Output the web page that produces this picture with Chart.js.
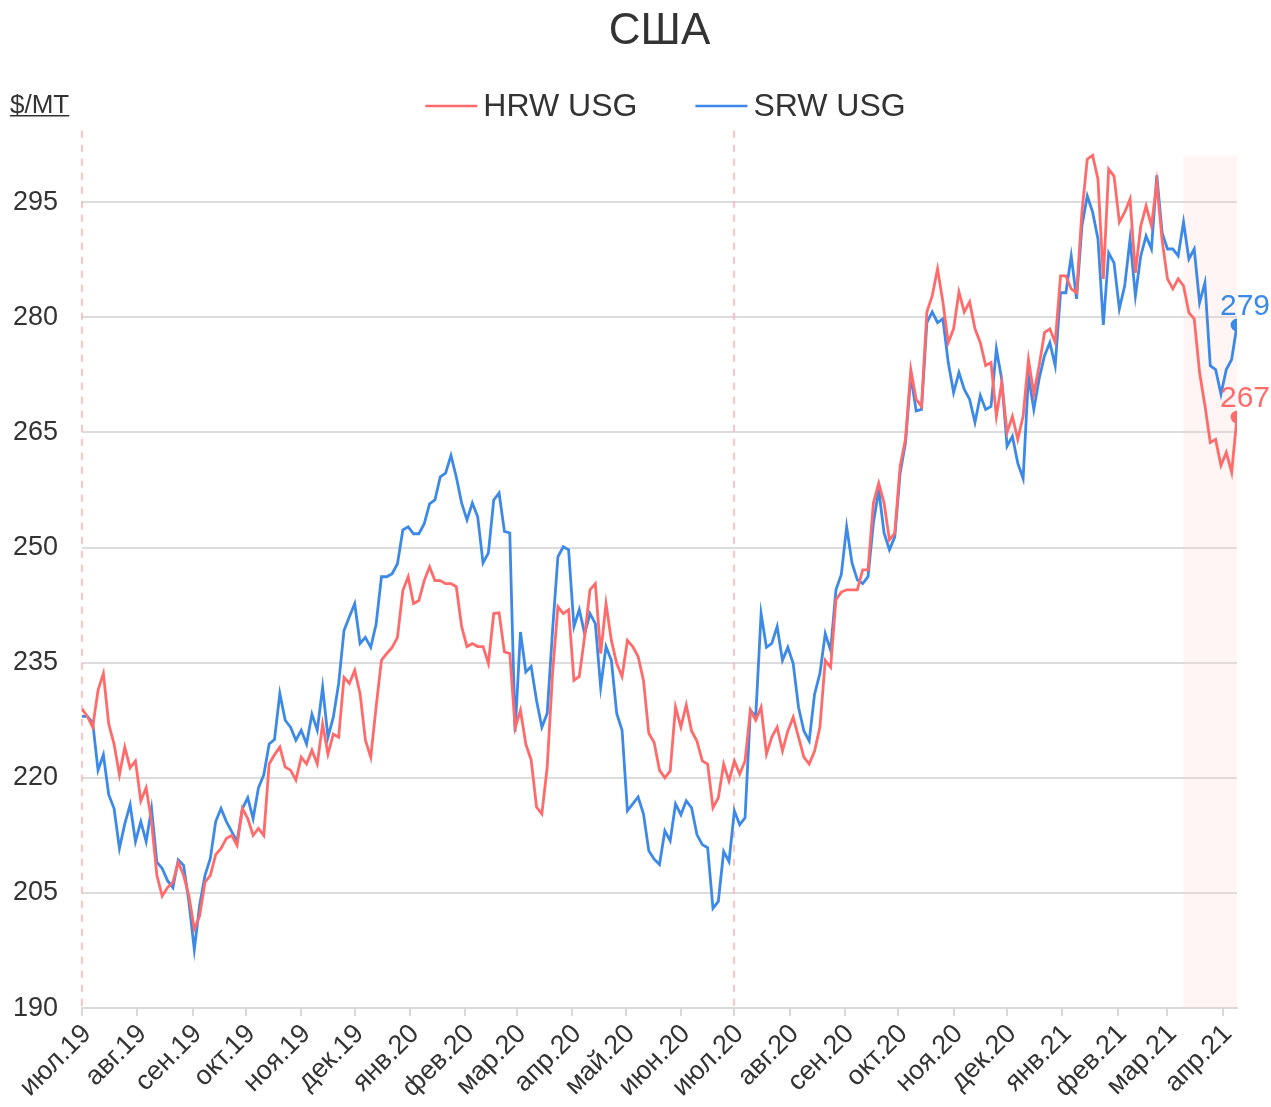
<!DOCTYPE html>
<html>
<head>
<meta charset="utf-8">
<title>США</title>
<script src="https://cdn.jsdelivr.net/npm/chart.js@4.4.0/dist/chart.umd.min.js"></script>
<style>
  html, body { margin: 0; padding: 0; background: #fff; }
  #wrap { width: 1271px; height: 1107px; }
</style>
</head>
<body>
<div id="wrap"><canvas id="chart" width="1271" height="1107"></canvas></div>
<script>
// one value every 3 calendar days, starting 1 Jul 2019
const startDate = '2019-07-01';
const stepDays = 3;

const monthLabels = [
    'июл.19', 'авг.19', 'сен.19', 'окт.19', 'ноя.19', 'дек.19',
    'янв.20', 'фев.20', 'мар.20', 'апр.20', 'май.20', 'июн.20',
    'июл.20', 'авг.20', 'сен.20', 'окт.20', 'ноя.20', 'дек.20',
    'янв.21', 'фев.21', 'мар.21', 'апр.21'
];

const yTicks = [190, 205, 220, 235, 250, 265, 280, 295];

const hrwUsg = [
    229, 228, 226.6, 231.4, 233.6, 227, 224.4, 220.4, 224, 221.3,
    222.2, 217, 218.7, 214.3, 207.3, 204.6, 205.7, 206.4, 209, 207.3,
    204.6, 200.3, 202, 206.4, 207.3, 210, 210.8, 212.1, 212.5, 211.2,
    216, 214.7, 212.5, 213.4, 212.5, 221.8, 223, 224, 221.4, 221,
    219.7, 222.7, 221.8, 223.6, 221.8, 227, 223.1, 225.7, 225.3, 233.1,
    232.3, 234, 231, 224.9, 222.7, 229.2, 235.3, 236.2, 237, 238.3,
    244.4, 246.2, 242.7, 243.1, 245.7, 247.5, 245.7, 245.7, 245.3, 245.3,
    244.9, 239.7, 237.1, 237.5, 237.1, 237.1, 234.9, 241.4, 241.5, 236.4,
    236.2, 226.5, 228.8, 224.4, 222.3, 216.2, 215.3, 221.4, 233.6, 242.3,
    241.4, 241.9, 232.7, 233.2, 238.4, 244.5, 245.3, 236.2, 242.7, 237.9,
    234.9, 233.2, 237.9, 237.1, 235.8, 232.7, 225.8, 224.6, 221, 220,
    220.9, 229.2, 226.6, 229.5, 226.1, 224.8, 222.2, 221.8, 216.1, 217.4,
    221.8, 219.6, 222.2, 220.5, 222.2, 228.8, 227.5, 229.2, 223.1, 225.3,
    226.6, 223.5, 226.1, 227.9, 225.3, 222.7, 221.8, 223.5, 226.6, 235.3,
    234.4, 243.2, 244.2, 244.5, 244.5, 244.5, 247.1, 247.1, 255.8, 258.4,
    255.8, 251, 251.9, 260.6, 264.1, 273.2, 269.3, 268.4, 280.7, 282.8,
    286.3, 282, 276.7, 278.5, 283.3, 280.7, 282, 278.5, 276.7, 273.7,
    274.1, 267.1, 271.5, 265, 267.1, 264.1, 267.1, 274.5, 270, 273.7,
    278, 278.5, 276.7, 285.4, 285.4, 283.7, 283.2, 293.7, 300.6, 301.1,
    298, 285, 299.3, 298.4, 292.4, 293.7, 295.4, 285.8, 291.9, 294.5,
    291.9, 297.5, 290, 285, 283.7, 285, 284.1, 280.6, 279.8, 272.8,
    268.5, 263.7, 264.1, 260.7, 262.4, 259.8, 267
];

const srwUsg = [
    228, 228, 227.2, 221, 223, 217.8, 216, 210.8, 214, 216.5,
    211.7, 214.3, 211.7, 216, 209, 208.2, 206.6, 205.7, 209.3, 208.6,
    203.8, 197.6, 203.4, 207.3, 209.5, 214.3, 216, 214.3, 213, 211.7,
    216, 217.4, 214.7, 218.7, 220.4, 224.4, 225, 231, 227.5, 226.6,
    224.9, 226.2, 224.4, 228.3, 226.2, 231.8, 225.3, 227.9, 232.3, 239.2,
    241, 242.7, 237.5, 238.3, 237, 240, 246.2, 246.2, 246.6, 247.9,
    252.3, 252.7, 251.8, 251.8, 253.1, 255.7, 256.2, 259.2, 259.7, 262,
    259.2, 255.8, 253.6, 255.8, 254, 248, 249.3, 256.2, 257.1, 252.1,
    251.9, 226, 239, 233.8, 234.5, 230.1, 226.6, 228.4, 239.2, 248.8,
    250.1, 249.7, 239.7, 241.9, 238.8, 241.4, 240.1, 231.8, 237.1, 235.3,
    228.4, 226.2, 215.7, 216.6, 217.5, 215.3, 210.5, 209.4, 208.7, 213.1,
    211.8, 216.6, 215.2, 217, 216.1, 212.6, 211.3, 210.9, 203, 203.9,
    210.4, 209.1, 215.7, 213.9, 214.8, 228.8, 228, 241.4, 237, 237.5,
    239.7, 235.3, 237, 234.9, 229.2, 226.1, 224.8, 230.9, 233.6, 238.8,
    236.6, 244.5, 246.5, 252.7, 248, 245.8, 245.3, 246.2, 253.2, 257.5,
    251.9, 249.7, 251.4, 259.7, 263.6, 272.4, 267.8, 268, 279.3, 280.7,
    279.3, 279.8, 274.1, 270.2, 272.8, 270.6, 269.3, 266.3, 269.8, 268,
    268.4, 275.9, 271.9, 263.2, 264.5, 261, 259, 272.4, 268, 272,
    275, 276.7, 273.7, 283.2, 283.2, 288, 282.4, 291.9, 295.8, 293.7,
    290.2, 279, 288.4, 287.1, 281.1, 284.1, 290.2, 282.8, 288, 290.6,
    288.9, 298.5, 291, 288.9, 288.9, 288, 292.4, 287.6, 288.9, 281.9,
    284.5, 273.7, 273.2, 270, 273.2, 274.5, 279
];

const markerDates = ['2019-07-01', '2020-07-01'];
const shadeStart = '2021-03-10';

const Y_MIN = 190;
const Y_MAX = 304.3;
const RED = '#ff6b6b';
const BLUE = '#3c89e8';
const TEXT = '#333';
const FONT = '"Liberation Sans", Arial, Helvetica, sans-serif';

const DAY = 86400000;
const dayOf = iso => Math.round((Date.parse(iso) - Date.parse(startDate)) / DAY);
const monthDays = monthLabels.map((_, k) => Math.round((Date.UTC(2019, 6 + k, 1) - Date.parse(startDate)) / DAY));
const lastDay = (hrwUsg.length - 1) * stepDays;
const toPoints = arr => arr.map((v, i) => ({ x: i * stepDays, y: v }));
const dataMax = Math.max(...hrwUsg, ...srwUsg);

const lastDot = color => ({
    pointRadius: ctx => ctx.dataIndex === ctx.dataset.data.length - 1 ? 5 : 0,
    pointHoverRadius: 0,
    pointBackgroundColor: color,
    pointBorderColor: color,
});

// shaded window, dashed July markers, legend, unit label and last values
const extras = {
    id: 'extras',
    beforeDatasetsDraw(chart) {
        const { ctx, chartArea, scales: { x, y } } = chart;
        ctx.save();
        const sx = x.getPixelForValue(dayOf(shadeStart));
        const sy = y.getPixelForValue(dataMax);
        ctx.fillStyle = 'rgba(255, 205, 205, 0.2)';
        ctx.fillRect(sx, sy, chartArea.right - sx, chartArea.bottom - sy);

        ctx.strokeStyle = 'rgba(255, 170, 170, 0.7)';
        ctx.lineWidth = 2;
        ctx.setLineDash([7, 7]);
        markerDates.forEach(d => {
            const px = Math.round(x.getPixelForValue(dayOf(d)));
            ctx.beginPath();
            ctx.moveTo(px, chartArea.top);
            ctx.lineTo(px, chartArea.bottom);
            ctx.stroke();
        });
        ctx.restore();
    },
    afterDatasetsDraw(chart) {
        const { ctx, chartArea } = chart;
        ctx.save();
        ctx.font = `30px ${FONT}`;
        ctx.textAlign = 'center';
        ctx.textBaseline = 'alphabetic';
        chart.data.datasets.forEach((ds, i) => {
            const meta = chart.getDatasetMeta(i);
            const pt = meta.data[meta.data.length - 1];
            const val = ds.data[ds.data.length - 1].y;
            ctx.fillStyle = ds.borderColor;
            ctx.fillText(Math.round(val), pt.x + 8, pt.y - 10);
        });

        // legend: line sample, text, gap
        ctx.font = `32px ${FONT}`;
        ctx.textAlign = 'left';
        ctx.textBaseline = 'middle';
        const lineW = 52, textGap = 6, itemGap = 58, ly = 106;
        const widths = chart.data.datasets.map(ds => lineW + textGap + ctx.measureText(ds.label).width);
        const total = widths.reduce((a, b) => a + b, 0) + itemGap * (widths.length - 1);
        let lx = (chartArea.left + chartArea.right) / 2 - total / 2 + 6;
        chart.data.datasets.forEach((ds, i) => {
            ctx.strokeStyle = ds.borderColor;
            ctx.lineWidth = 2.5;
            ctx.beginPath();
            ctx.moveTo(lx, ly);
            ctx.lineTo(lx + lineW, ly);
            ctx.stroke();
            ctx.fillStyle = TEXT;
            ctx.fillText(ds.label, lx + lineW + textGap, ly + 1);
            lx += widths[i] + itemGap;
        });

        ctx.fillStyle = TEXT;
        ctx.font = `26px ${FONT}`;
        ctx.textBaseline = 'alphabetic';
        const unit = '$/MT';
        ctx.fillText(unit, 10, 113);
        const w = ctx.measureText(unit).width;
        ctx.fillRect(10, 115, w, 1.5);
        ctx.restore();
    }
};

new Chart(document.getElementById('chart'), {
    type: 'line',
    data: {
        datasets: [
            { label: 'HRW USG', data: toPoints(hrwUsg), borderColor: RED, backgroundColor: RED, borderWidth: 2.8, tension: 0, ...lastDot(RED) },
            { label: 'SRW USG', data: toPoints(srwUsg), borderColor: BLUE, backgroundColor: BLUE, borderWidth: 2.8, tension: 0, ...lastDot(BLUE) },
        ]
    },
    options: {
        responsive: false,
        animation: false,
        layout: { padding: { left: 14, right: 34, top: 0, bottom: 1 } },
        plugins: {
            title: {
                display: true, text: 'США', color: TEXT, fullSize: false,
                font: { family: FONT, size: 44, weight: 'normal' },
                padding: { top: 5, bottom: 73 }
            },
            legend: { display: false },
            tooltip: { enabled: false }
        },
        scales: {
            x: {
                type: 'linear', min: 0, max: lastDay,
                afterBuildTicks: axis => { axis.ticks = monthDays.map(v => ({ value: v })); },
                afterFit: axis => {
                    // rotated first label must not push the plot to the right
                    axis.paddingLeft = 0;
                    axis.paddingRight = 0;
                    axis.getPadding = () => ({ left: 0, top: 0, right: 0, bottom: 0 });
                },
                ticks: {
                    autoSkip: false, minRotation: 45, maxRotation: 45, padding: 2, labelOffset: 5,
                    color: TEXT, font: { family: FONT, size: 27 },
                    callback: (v, i) => monthLabels[i]
                },
                grid: { drawOnChartArea: false, drawTicks: true, tickLength: 8, color: '#d9d9d9', lineWidth: 2 },
                border: { display: true, color: '#d9d9d9', width: 2 }
            },
            y: {
                min: Y_MIN, max: Y_MAX,
                afterBuildTicks: axis => { axis.ticks = yTicks.map(v => ({ value: v })); },
                afterFit: axis => { axis.width = 68; },
                ticks: { color: TEXT, font: { family: FONT, size: 27 }, padding: 24 },
                grid: { color: '#dcdcdc', lineWidth: 2, drawTicks: false },
                border: { display: false }
            }
        }
    },
    plugins: [extras]
});
</script>
</body>
</html>
